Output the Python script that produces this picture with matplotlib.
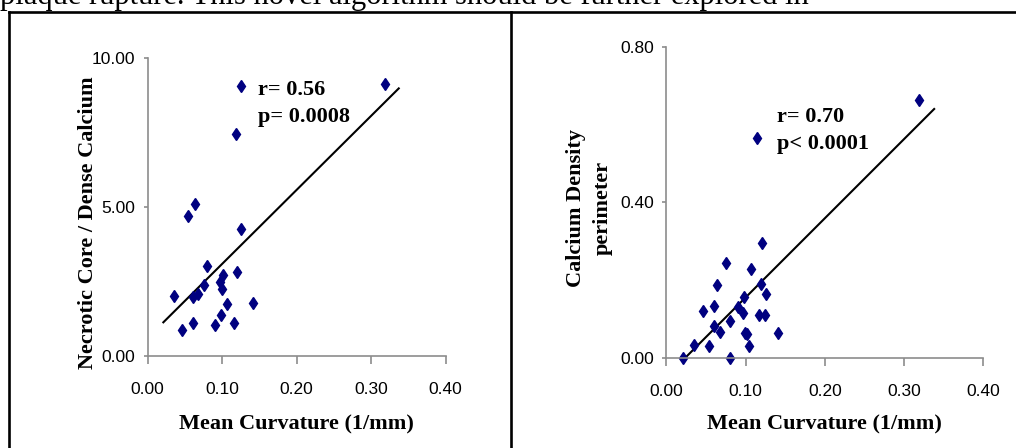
import matplotlib
matplotlib.use("Agg")
import matplotlib.pyplot as plt
from matplotlib.lines import Line2D

# left panel: necrotic core / dense calcium vs mean curvature
nc_curv = [0.1248, 0.319, 0.1186, 0.0631, 0.0537, 0.1257, 0.0796, 0.120,
           0.1011, 0.0975, 0.0752, 0.0993, 0.068, 0.0609, 0.0349, 0.1069,
           0.141, 0.0984, 0.0604, 0.0904, 0.1159, 0.0465]
nc_ratio = [9.06, 9.13, 7.45, 5.08, 4.69, 4.26, 3.02, 2.80,
            2.70, 2.48, 2.36, 2.23, 2.08, 1.98, 2.00, 1.73,
            1.78, 1.35, 1.09, 1.03, 1.09, 0.86]
nc_fit_x = [0.021, 0.337]
nc_fit_y = [1.12, 8.97]

# right panel: calcium density perimeter vs mean curvature
cd_curv = [0.319, 0.1148, 0.1204, 0.0757, 0.1069, 0.0636, 0.1191, 0.1258,
           0.098, 0.0602, 0.0905, 0.0459, 0.0968, 0.1166, 0.1245, 0.0804,
           0.0602, 0.0681, 0.0997, 0.1015, 0.141, 0.0346, 0.0535, 0.1044,
           0.0215, 0.0808]
cd_perim = [0.665, 0.567, 0.295, 0.244, 0.228, 0.187, 0.190, 0.163,
            0.156, 0.133, 0.130, 0.120, 0.116, 0.109, 0.109, 0.094,
            0.081, 0.065, 0.064, 0.061, 0.063, 0.034, 0.029, 0.029,
            0.0, 0.0]
cd_fit_x = [0.024, 0.338]
cd_fit_y = [0.0, 0.641]

x_ticks = [0.0, 0.1, 0.2, 0.3, 0.4]
x_ticklabels = ["0.00", "0.10", "0.20", "0.30", "0.40"]
nc_ticks = [0, 5, 10]
nc_ticklabels = ["0.00", "5.00", "10.00"]
cd_ticks = [0.0, 0.4, 0.8]
cd_ticklabels = ["0.00", "0.40", "0.80"]

W, H = 1016, 448
serif = ["Liberation Serif", "DejaVu Serif"]
sans = ["Liberation Sans", "DejaVu Sans"]
spine_col = "#8c8c8c"
navy = "#000080"

fig = plt.figure(figsize=(W / 100, H / 100), dpi=100)


def px_axes(x0, x1, ytop, ybot):
    return fig.add_axes([x0 / W, (H - ybot) / H, (x1 - x0) / W, (ybot - ytop) / H])


def style(ax, xlim, ylim, yticks, yticklabels):
    ax.set_xlim(*xlim)
    ax.set_ylim(*ylim)
    for s in ("top", "right"):
        ax.spines[s].set_visible(False)
    for s in ("left", "bottom"):
        ax.spines[s].set_color(spine_col)
        ax.spines[s].set_linewidth(1.2)
    ax.set_xticks(x_ticks)
    ax.set_xticklabels(x_ticklabels, family=sans, fontsize=12.5)
    ax.set_yticks(yticks)
    ax.set_yticklabels(yticklabels, family=sans, fontsize=12.5)
    ax.tick_params(axis="x", direction="out", length=6, width=1.2,
                   color=spine_col, pad=13)
    ax.tick_params(axis="y", direction="out", length=3, width=1.2,
                   color=spine_col, pad=6)
    ax.set_xlabel("Mean Curvature (1/mm)", family=serif, fontweight="bold",
                  fontsize=16)
    ax.xaxis.label.set_va("center")


# left panel
ax1 = px_axes(147.7, 445.7, 57.7, 355.7)
style(ax1, (0, 0.4), (0, 10), nc_ticks, nc_ticklabels)
ax1.plot(nc_fit_x, nc_fit_y, color="black", lw=1.5, clip_on=False)
ax1.plot(nc_curv, nc_ratio, linestyle="none", marker="d", ms=6.5,
         color=navy, clip_on=False)
ax1.text(0.148, 8.75, "r= 0.56", family=serif, fontweight="bold", fontsize=16)
ax1.text(0.148, 7.85, "p= 0.0008", family=serif, fontweight="bold", fontsize=16)
ax1.set_ylabel("Necrotic Core / Dense Calcium", family=serif,
               fontweight="bold", fontsize=16)
ax1.yaxis.set_label_coords(-0.202, 0.445)
ax1.yaxis.label.set_va("center")
ax1.xaxis.set_label_coords(0.5, -0.23)

# right panel
ax2 = px_axes(666.3, 983.3, 47.3, 357.7)
style(ax2, (0, 0.4), (0, 0.8), cd_ticks, cd_ticklabels)
ax2.plot(cd_fit_x, cd_fit_y, color="black", lw=1.5, clip_on=False)
ax2.plot(cd_curv, cd_perim, linestyle="none", marker="d", ms=6.5,
         color=navy, clip_on=False)
ax2.text(0.1393, 0.608, "r= 0.70", family=serif, fontweight="bold", fontsize=16)
ax2.text(0.1393, 0.537, "p< 0.0001", family=serif, fontweight="bold", fontsize=16)
ax2.set_ylabel("Calcium Density\nperimeter", family=serif, fontweight="bold",
               fontsize=16, linespacing=1.45)
ax2.yaxis.set_label_coords(-0.244, 0.482)
ax2.yaxis.label.set_va("center")
ax2.xaxis.set_label_coords(0.5, -0.215)

# page frame and the clipped sentence above it
frame_kw = dict(color="black", lw=1.9, transform=fig.transFigure)
fig.add_artist(Line2D([8.5 / W, 1.0], [(H - 12) / H] * 2, **frame_kw))
fig.add_artist(Line2D([8.5 / W] * 2, [0, (H - 12) / H], **frame_kw))
fig.add_artist(Line2D([511 / W] * 2, [0, (H - 12) / H], **frame_kw))
fig.text(0.0, (H - 4) / H,
         "plaque rupture. This novel algorithm should be further explored in",
         family=serif, fontsize=22, va="baseline", ha="left")

fig.savefig("out.png", dpi=100)
